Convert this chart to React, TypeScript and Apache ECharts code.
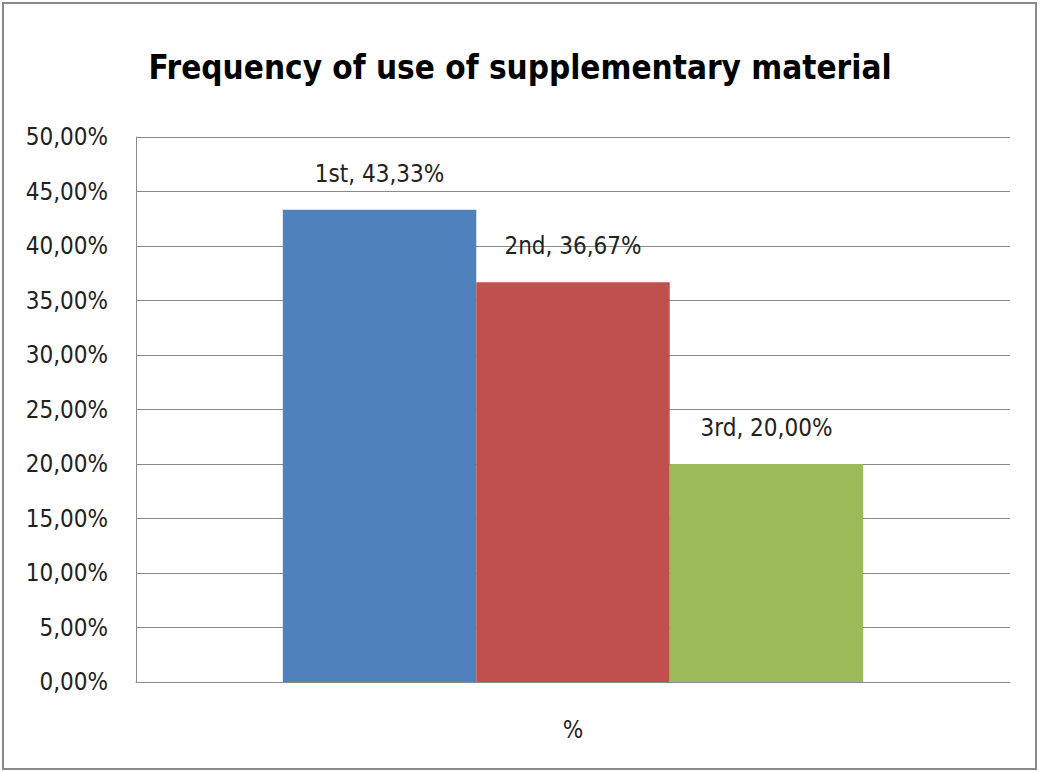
import React, { useEffect, useRef } from "react";
import * as echarts from "echarts";

// Chart data
const categories = ["%"];
const seriesNames = ["1st", "2nd", "3rd"];
const seriesValues = [43.33, 36.67, 20.0];
const seriesColors = ["#4F81BD", "#C0504D", "#9BBB59"];
const yTicks = { min: 0, max: 50, interval: 5 };

const FONT = "'Liberation Sans Narrow', 'DejaVu Sans Condensed', 'Noto Sans', sans-serif";

const fmtPct = (v: number) => v.toFixed(2).replace(".", ",") + "%";

export default function App() {
  const ref = useRef<HTMLDivElement>(null);

  useEffect(() => {
    document.body.style.margin = "0";
    const chart = echarts.init(ref.current!, null, { renderer: "svg" });
    chart.setOption({
      animation: false,
      backgroundColor: "#ffffff",
      title: {
        text: "Frequency of use of supplementary material",
        left: "center",
        top: 46,
        textStyle: {
          fontFamily: FONT,
          fontWeight: "bold",
          fontSize: 33,
          color: "#000000",
        },
      },
      graphic: [
        {
          type: "rect",
          shape: { x: 3, y: 3, width: 1033, height: 766 },
          style: { fill: "none", stroke: "#8a8a8a", lineWidth: 2 },
          silent: true,
        },
      ],
      grid: { left: 136, right: 30, top: 137, bottom: 89 },
      xAxis: {
        type: "category",
        data: categories,
        axisTick: { show: false },
        axisLine: { show: true, lineStyle: { color: "#8a8a8a", width: 1 } },
        axisLabel: {
          margin: 36,
          fontFamily: FONT,
          fontSize: 24,
          color: "#222222",
        },
      },
      yAxis: {
        type: "value",
        min: yTicks.min,
        max: yTicks.max,
        interval: yTicks.interval,
        axisLine: { show: true, lineStyle: { color: "#8a8a8a", width: 1 } },
        axisTick: { show: false },
        splitLine: { show: true, lineStyle: { color: "#8a8a8a", width: 1 } },
        axisLabel: {
          margin: 28,
          fontFamily: FONT,
          fontSize: 24,
          color: "#222222",
          formatter: (v: number) => fmtPct(v),
        },
      },
      series: seriesNames.map((name, i) => ({
        name,
        type: "bar",
        data: [seriesValues[i]],
        barGap: "0%",
        barCategoryGap: "33.6%",
        itemStyle: { color: seriesColors[i] },
        label: {
          show: true,
          position: "top",
          distance: 24,
          fontFamily: FONT,
          fontSize: 24,
          color: "#222222",
          formatter: (p: any) => `${p.seriesName}, ${fmtPct(p.value)}`,
        },
      })),
    });
    return () => chart.dispose();
  }, []);

  return <div ref={ref} style={{ width: 1040, height: 771 }} />;
}
